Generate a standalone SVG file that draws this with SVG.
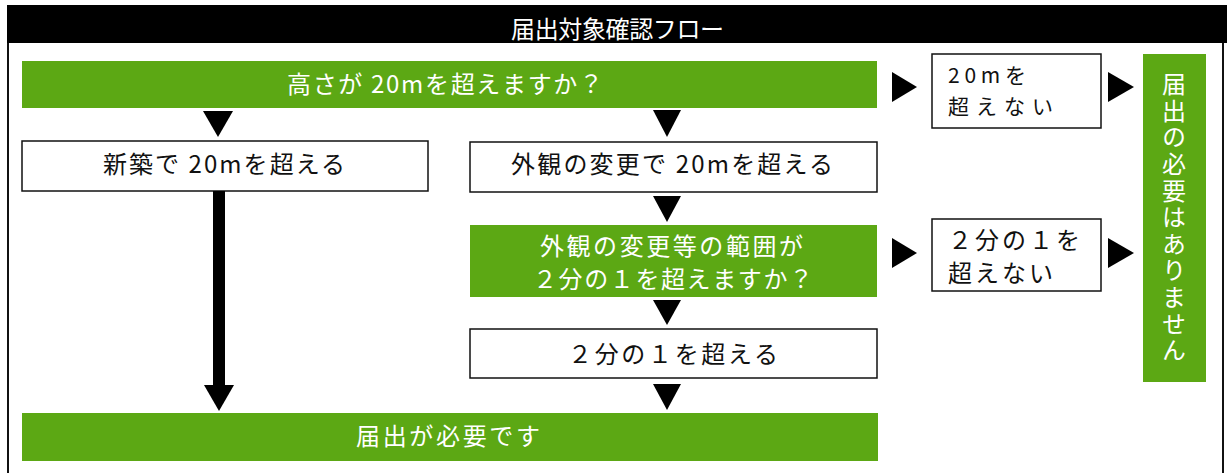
<svg xmlns="http://www.w3.org/2000/svg" width="1227" height="473" viewBox="0 0 1227 473">
<style>
text{font-family:"Noto Sans CJK JP","Noto Sans",sans-serif;font-size:24px;dominant-baseline:central;}
.w{fill:#ffffff;}
.k{fill:#111111;}
.g{fill:#5ca814;}
.box{fill:#ffffff;stroke:#111111;stroke-width:1.5;}
.tri{fill:#000000;}
.sm{font-size:21px;}
</style>
<rect x="0" y="0" width="1227" height="473" fill="#ffffff"/>
<rect x="8" y="6" width="1215" height="480" fill="#ffffff" stroke="#111111" stroke-width="2"/>
<g id="title">
<rect x="7" y="5" width="1220" height="38" fill="#000000"/>
<text class="w" x="617.5" y="27" text-anchor="middle" font-size="23" textLength="213" lengthAdjust="spacing">届出対象確認フロー</text>
</g>
<g id="q1">
<rect class="g" x="22" y="61" width="855" height="47"/>
<text class="w" x="445" y="82" text-anchor="middle" font-size="26" textLength="316" lengthAdjust="spacing">高さが 20mを超えますか？</text>
</g>
<g id="no1">
<rect class="box" x="932" y="54" width="169" height="74"/>
<text class="k sm" x="948" y="74" textLength="78" lengthAdjust="spacing">20mを</text>
<text class="k sm" x="948" y="105" textLength="105" lengthAdjust="spacing">超えない</text>
</g>
<g id="notreq">
<rect class="g" x="1143" y="54" width="63" height="328"/>
<text class="w" x="1174" y="72" writing-mode="vertical-rl" style="dominant-baseline:auto" letter-spacing="2.6">届出の必要はありません</text>
</g>
<g id="new">
<rect class="box" x="22" y="141" width="406" height="50"/>
<text class="k" x="224" y="162.5" text-anchor="middle" textLength="242" lengthAdjust="spacing">新築で 20mを超える</text>
</g>
<g id="ext">
<rect class="box" x="470" y="142" width="407" height="50"/>
<text class="k" x="672" y="162.5" text-anchor="middle" textLength="322" lengthAdjust="spacing">外観の変更で 20mを超える</text>
</g>
<g id="q2">
<rect class="g" x="470" y="225" width="407" height="72"/>
<text class="w" x="671.5" y="244" text-anchor="middle" font-size="22" textLength="263" lengthAdjust="spacing">外観の変更等の範囲が</text>
<text class="w" x="673" y="277" text-anchor="middle" font-size="22" textLength="280" lengthAdjust="spacing">２分の１を超えますか？</text>
</g>
<g id="no2">
<rect class="box" x="932" y="219" width="169" height="72"/>
<text class="k" x="948" y="238" font-size="20" textLength="132" lengthAdjust="spacing">２分の１を</text>
<text class="k" x="948" y="271" font-size="20" textLength="105" lengthAdjust="spacing">超えない</text>
</g>
<g id="half">
<rect class="box" x="470" y="329" width="407" height="49"/>
<text class="k" x="673" y="352" text-anchor="middle" textLength="210" lengthAdjust="spacing">２分の１を超える</text>
</g>
<g id="req">
<rect class="g" x="22" y="413" width="856" height="48"/>
<text class="w" x="448" y="434" text-anchor="middle" textLength="184" lengthAdjust="spacing">届出が必要です</text>
</g>
<g id="connectors">
<polygon class="tri" points="203,111 233,111 218,137"/>
<polygon class="tri" points="653,110 681,110 667,137"/>
<polygon class="tri" points="892,72 892,102 917,87"/>
<polygon class="tri" points="1108,72 1108,102 1134,87"/>
<rect class="tri" x="213" y="191" width="12" height="196"/>
<polygon class="tri" points="204,385 234,385 219,411"/>
<polygon class="tri" points="653,196 681,196 667,222"/>
<polygon class="tri" points="892,238 892,268 917,253"/>
<polygon class="tri" points="1108,238 1108,268 1134,253"/>
<polygon class="tri" points="653,300 681,300 667,325"/>
<polygon class="tri" points="653,384 681,384 667,410"/>
</g>
</svg>
